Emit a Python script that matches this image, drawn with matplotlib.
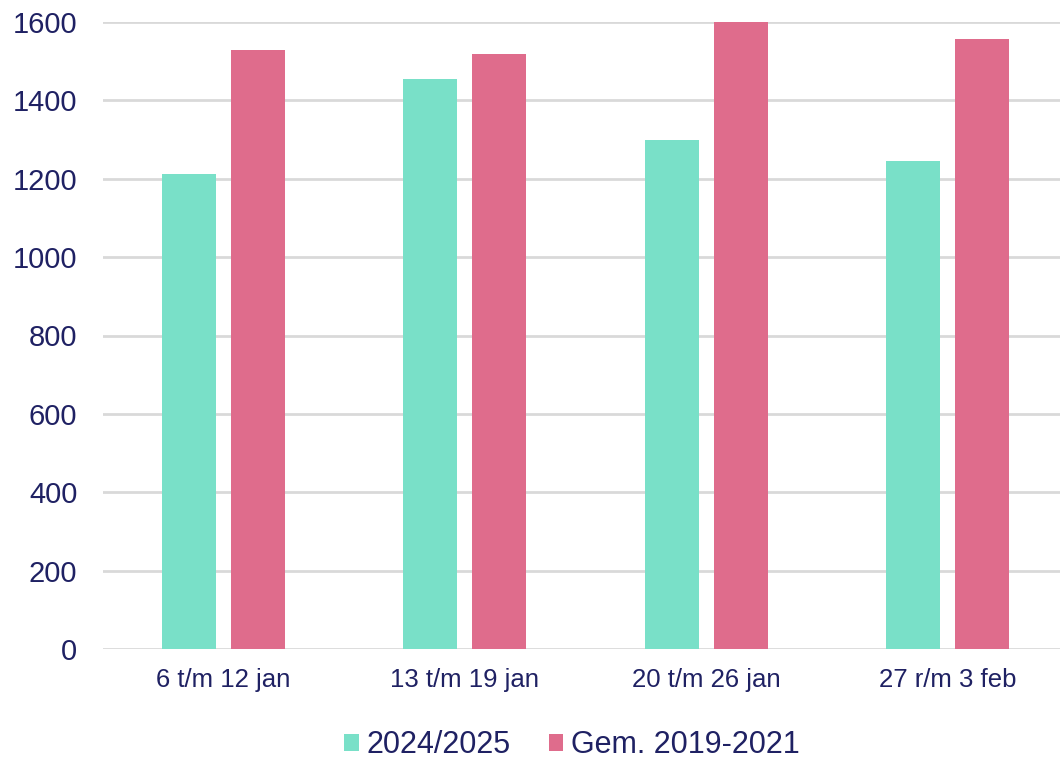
import numpy as np
import matplotlib.pyplot as plt

plt.rcParams['font.family'] = ['Liberation Sans', 'DejaVu Sans']

# week labels and counts per series
weeks = ["6 t/m 12 jan", "13 t/m 19 jan", "20 t/m 26 jan", "27 r/m 3 feb"]
season_2024 = [1213, 1455, 1299, 1245]
avg_2019_2021 = [1529, 1518, 1599, 1557]
series_names = ["2024/2025", "Gem. 2019-2021"]

teal = "#79E0C8"
pink = "#DF6C8C"
navy = "#1F2163"
grid = "#D9D9D9"

fig = plt.figure(figsize=(10.6, 7.61), dpi=100)
ax = fig.add_axes([103 / 1060, 1 - 649 / 761, 965 / 1060, 627 / 761])

x = np.arange(len(weeks))
w = 0.224
off = 0.143
ax.bar(x - off, season_2024, width=w, color=teal, label=series_names[0], zorder=3)
ax.bar(x + off, avg_2019_2021, width=w, color=pink, label=series_names[1], zorder=3)

ax.set_xlim(-0.5, len(weeks) - 0.5)
ax.set_ylim(0, 1600)
ax.set_yticks(range(0, 1601, 200))
ax.yaxis.grid(True, color=grid, linewidth=2, zorder=0)
ax.set_axisbelow(True)
for s in ax.spines.values():
    s.set_visible(False)
ax.tick_params(axis='both', length=0)
ax.tick_params(axis='y', labelsize=21, labelcolor=navy, pad=18.5)
ax.tick_params(axis='x', labelsize=18.5, labelcolor=navy, pad=14)
ax.set_xticks(x)
ax.set_xticklabels(weeks)

fig.legend(loc='center', bbox_to_anchor=(572 / 1060, 1 - 745 / 761), ncol=2,
           frameon=False, fontsize=22, labelcolor=navy, handlelength=0.47,
           handleheight=0.47, handletextpad=0.25, columnspacing=1.25)

fig.savefig("out.png", dpi=100)
